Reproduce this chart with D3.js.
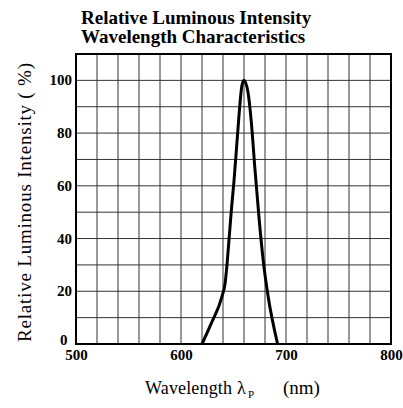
<!DOCTYPE html>
<html>
<head>
<meta charset="utf-8">
<script src="https://cdn.jsdelivr.net/npm/d3@7"></script>
<style>
  body { margin: 0; background: #fff; }
  text { font-family: "Liberation Serif", "DejaVu Serif", serif; fill: #000; }
</style>
</head>
<body>
<svg id="chart" width="403" height="408"></svg>
<script>
// curve
let wavelength = [620, 629, 639, 642, 644, 646, 648, 650.5, 653, 655.5, 658, 660, 664, 667, 670.5, 674.5, 678.5, 683, 692]
let intensity  = [0, 8, 18, 23, 31, 41, 51, 62, 75, 88, 98, 100, 95, 84, 66, 47, 31, 18, 0]
let xTicks = [500, 600, 700, 800]
let yTicks = [0, 20, 40, 60, 80, 100]
let titleLines = ['Relative Luminous Intensity', 'Wavelength Characteristics']

let svg = d3.select('#chart')
let pLeft = 76, pRight = 391, pTop = 54, pBottom = 344

let x = d3.scaleLinear().domain([500, 800]).range([pLeft, pRight])
let y = d3.scaleLinear().domain([0, 110]).range([pBottom, pTop])

// grid
let grid = svg.append('g')
grid.selectAll('.v')
    .data(d3.range(520, 800, 20))
    .enter()
    .append('line')
    .attr('x1', d => x(d)).attr('x2', d => x(d))
    .attr('y1', pTop).attr('y2', pBottom)
    .style('stroke', '#333').style('stroke-width', 1)
grid.selectAll('.h')
    .data(d3.range(10, 110, 10))
    .enter()
    .append('line')
    .attr('x1', pLeft).attr('x2', pRight)
    .attr('y1', d => y(d)).attr('y2', d => y(d))
    .style('stroke', '#333').style('stroke-width', 1)

// frame
svg.append('rect')
    .attr('x', pLeft).attr('y', pTop)
    .attr('width', pRight - pLeft).attr('height', pBottom - pTop)
    .style('fill', 'none').style('stroke', '#000').style('stroke-width', 2)

// tick labels
let xAxis = svg.append('g')
    .attr('transform', `translate(0,${pBottom})`)
    .call(d3.axisBottom(x).tickValues(xTicks).tickSize(0).tickPadding(5))
xAxis.select('.domain').remove()
xAxis.selectAll('text')
    .style('font-family', '"Liberation Serif", serif')
    .style('font-size', '15px').style('font-weight', 'bold').style('fill', '#000')

let yAxis = svg.append('g')
    .attr('transform', `translate(${pLeft},0)`)
    .call(d3.axisLeft(y).tickValues(yTicks).tickSize(0).tickPadding(4))
yAxis.select('.domain').remove()
yAxis.selectAll('text')
    .attr('dy', d => d === 0 ? '0em' : '0.3em')
    .attr('dx', d => d === 0 ? '-0.3em' : 0)
    .style('font-family', '"Liberation Serif", serif')
    .style('font-size', '15px').style('font-weight', 'bold').style('fill', '#000')

// curve
let line = d3.line()
    .x((d, i) => x(d))
    .y((d, i) => y(intensity[i]))
    .curve(d3.curveMonotoneX)
svg.append('path')
    .datum(wavelength)
    .attr('d', line)
    .style('fill', 'none').style('stroke', '#000').style('stroke-width', 3)
    .style('stroke-linejoin', 'round')

// title
svg.selectAll('.title')
    .data(titleLines)
    .enter()
    .append('text')
    .attr('x', 81)
    .attr('y', (d, i) => 24 + i * 19)
    .style('font-size', '19px').style('font-weight', 'bold')
    .text(d => d)

// axis titles
svg.append('text')
    .attr('x', 145).attr('y', 394)
    .attr('textLength', 87).attr('lengthAdjust', 'spacing')
    .style('font-size', '18px')
    .text('Wavelength')
svg.append('text')
    .attr('x', 237).attr('y', 394)
    .style('font-size', '18px')
    .text('λ')
svg.append('text')
    .attr('x', 248).attr('y', 398)
    .style('font-size', '11px')
    .text('P')
svg.append('text')
    .attr('x', 283).attr('y', 394)
    .style('font-size', '19px')
    .text('(nm)')

svg.append('text')
    .attr('transform', `translate(31,${(63 + 342) / 2}) rotate(-90)`)
    .attr('text-anchor', 'middle')
    .attr('textLength', 279).attr('lengthAdjust', 'spacing')
    .style('font-size', '19px')
    .text('Relative Luminous Intensity ( %)')
</script>
</body>
</html>
